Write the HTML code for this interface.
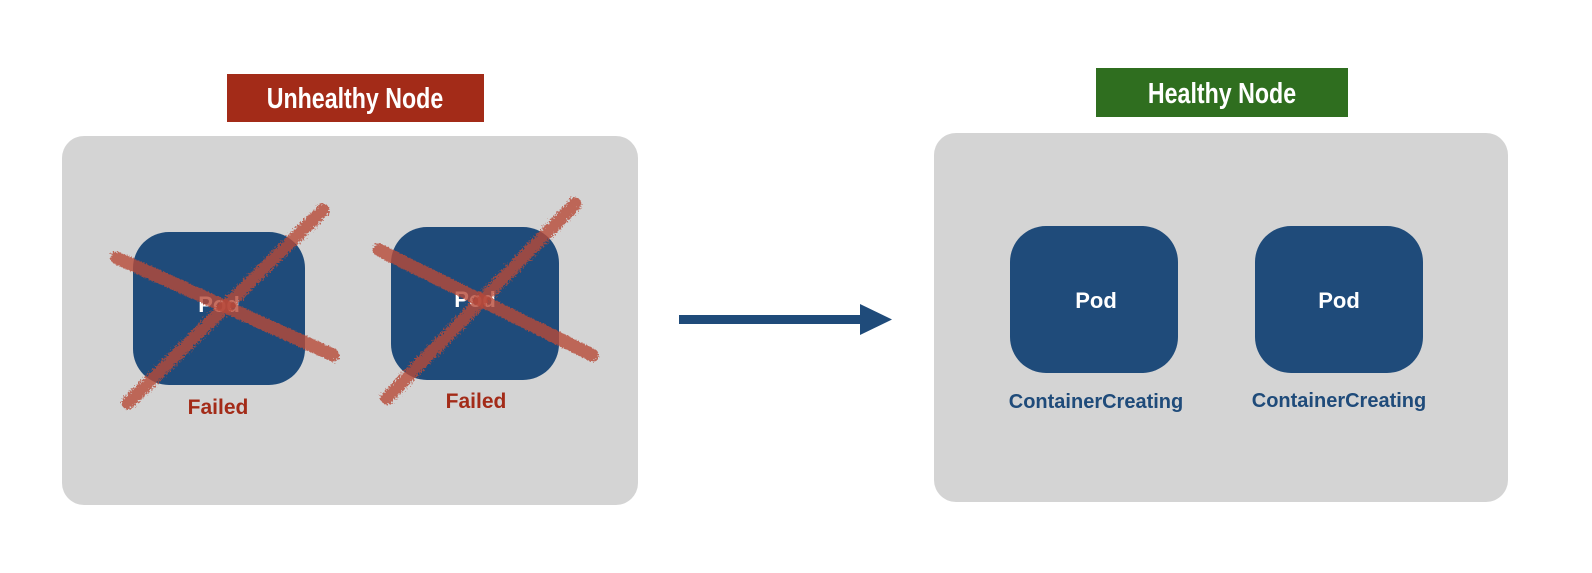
<!DOCTYPE html>
<html><head><style>
body{margin:0;width:1592px;height:568px;background:#fff;overflow:hidden}
</style></head><body>
<svg width="1592" height="568" xmlns="http://www.w3.org/2000/svg" font-family="Liberation Sans, sans-serif">
<defs><filter id="rough"><feTurbulence type="fractalNoise" baseFrequency="0.6" numOctaves="2" result="n"/><feDisplacementMap in="SourceGraphic" in2="n" scale="7"/></filter></defs>
<rect x="227" y="74" width="257" height="48" fill="#a32b18"/>
<text x="355" y="108" text-anchor="middle" fill="#fff" font-size="29" font-weight="bold" transform="translate(355,0) scale(0.8,1) translate(-355,0)">Unhealthy Node</text>
<rect x="1096" y="68" width="252" height="49" fill="#2f6e1f"/>
<text x="1222" y="103" text-anchor="middle" fill="#fff" font-size="29" font-weight="bold" transform="translate(1222,0) scale(0.8,1) translate(-1222,0)">Healthy Node</text>
<rect x="62" y="136" width="576" height="369" rx="22" fill="#d4d4d4"/>
<rect x="934" y="133" width="574" height="369" rx="22" fill="#d4d4d4"/>
<rect x="133" y="232" width="172" height="153" rx="36" fill="#1f4b7a"/>
<rect x="391" y="227" width="168" height="153" rx="36" fill="#1f4b7a"/>
<rect x="1010" y="226" width="168" height="147" rx="36" fill="#1f4b7a"/>
<rect x="1255" y="226" width="168" height="147" rx="36" fill="#1f4b7a"/>
<g fill="#fff" font-size="22" font-weight="bold" text-anchor="middle">
<text x="219" y="312">Pod</text><text x="475" y="307">Pod</text>
<text x="1096" y="308">Pod</text><text x="1339" y="308">Pod</text>
</g>
<g fill="#a32b18" font-size="21" font-weight="bold" text-anchor="middle">
<text x="218" y="414">Failed</text><text x="476" y="408">Failed</text>
</g>
<g fill="#1f4b7a" font-size="20" font-weight="bold" text-anchor="middle">
<text x="1096" y="408">ContainerCreating</text><text x="1339" y="407">ContainerCreating</text>
</g>
<g stroke="#b84a3a" stroke-opacity="0.8" stroke-width="13" stroke-linecap="round" filter="url(#rough)">
<line x1="117" y1="258" x2="333" y2="355"/>
<line x1="323" y1="210" x2="128" y2="403"/>
<line x1="379" y1="250" x2="592" y2="355"/>
<line x1="575" y1="204" x2="387" y2="398"/>
</g>
<rect x="679" y="315" width="196" height="9" fill="#1f4b7a"/>
<polygon points="860,304 892,319.5 860,335" fill="#1f4b7a"/>
</svg>
</body></html>
